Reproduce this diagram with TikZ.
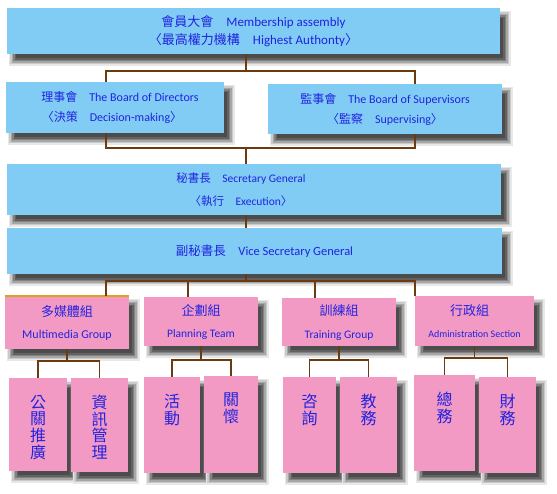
\documentclass[tikz,border=0pt]{standalone}
\usepackage{fontspec}
\setmainfont{Carlito}
\newfontfamily\cjk{Noto Sans CJK TC}

\definecolor{skyBox}{HTML}{80CCF4}
\definecolor{pinkBox}{HTML}{F29AC4}
\definecolor{ink}{HTML}{2222E0}
\definecolor{trunk}{HTML}{6B3A0E}
\definecolor{goldEdge}{HTML}{D9A521}
% shadow greys, rim to core
\definecolor{shA}{HTML}{E8E8E8}
\definecolor{shB}{HTML}{CACACA}
\definecolor{shC}{HTML}{A6A6A6}
\definecolor{shD}{HTML}{828282}
\definecolor{shE}{HTML}{626262}
\definecolor{shF}{HTML}{4C4C4C}

\newcommand{\zh}[1]{{\cjk #1}}
% shadow rings, then the box: \panel{options}{name}{cx}{cy}{width}{height} {text};
\newcommand{\panel}[6]{%
  \foreach \e/\k in {4.5/shA, 3/shB, 1.5/shC, 0/shD, -1.5/shE, -3/shF}
    \fill[\k] ({#3-#5/2+6-(\e)},{#4-#6/2+7-(\e)}) rectangle ({#3+#5/2+6+\e},{#4+#6/2+7+\e});
  \node[#1, minimum width=#5pt, minimum height=#6pt] (#2) at (#3,#4)}

\begin{document}
\begin{tikzpicture}[x=1pt, y=-1pt,
    box/.style={inner sep=0pt, text=ink, align=center},
    upper/.style={box, fill=skyBox},
    group/.style={box, fill=pinkBox},
    leaf/.style={box, fill=pinkBox},
    leaftext/.style={anchor=north, yshift=-17pt, inner sep=0pt, align=center, text=ink,
      font=\cjk\fontsize{16}{16.7}\selectfont},
    link/.style={trunk, line width=1.8pt}]
    \useasboundingbox (0,0) rectangle (557,493);

    % assembly and boards
    \panel{upper, font=\fontsize{13}{18}\selectfont}{assembly}{253.5}{31}{493}{46}
      {\zh{會員大會}\quad Membership assembly\\ \zh{〈最高權力機構}\quad Highest Authonty\zh{〉}};
    \panel{upper, font=\fontsize{12}{20}\selectfont}{directors}{115}{107.5}{218}{51}
      {\zh{理事會}\quad The Board of Directors\hspace*{-10pt}\\ \zh{〈決策}\quad Decision-making\zh{〉}\hspace*{6pt}};
    \panel{upper, font=\fontsize{12}{20}\selectfont}{supervisors}{385}{109}{234}{50}
      {\zh{監事會}\quad The Board of Supervisors\\ \zh{〈監察}\quad Supervising\zh{〉}};

    % secretariat
    \panel{upper, font=\fontsize{11.5}{23}\selectfont}{secretary}{254}{189.5}{494}{51}
      {\zh{秘書長}\quad Secretary General\hspace*{26pt}\\ \zh{〈執行}\quad Execution\zh{〉}\hspace*{26pt}};
    \panel{upper, font=\fontsize{12.5}{18}\selectfont}{vice}{254.5}{251}{495}{46}
      {\hspace*{20pt}\zh{副秘書長}\quad Vice Secretary General};

    % groups
    \panel{group, font=\fontsize{12}{22}\selectfont}{multimedia}{67}{322.5}{124}{53}
      {{\fontsize{13}{22}\selectfont\zh{多媒體組}}\\ Multimedia Group};
    \panel{group, font=\fontsize{11.5}{22}\selectfont}{planning}{201}{321.5}{114}{49}
      {{\fontsize{13}{22}\selectfont\zh{企劃組}}\\ Planning Team};
    \panel{group, font=\fontsize{11.5}{23}\selectfont}{training}{339}{322}{114}{48}
      {{\fontsize{13}{23}\selectfont\zh{訓練組}}\\ Training Group};
    \panel{group, font=\fontsize{10}{22}\selectfont}{admin}{474.5}{321}{119}{50}
      {{\fontsize{13}{22}\selectfont\zh{行政組}}\hspace*{10pt}\\ Administration Section};
    \draw[goldEdge, line width=1.5pt] (multimedia.north west) -- (multimedia.north east);

    % sections
    \panel{leaf, label={[leaftext]north:{公\\關\\推\\廣}}}{pr}{38}{424.5}{58}{93} {};
    \panel{leaf, label={[leaftext]north:{資\\訊\\管\\理}}}{info}{99.5}{425}{57}{94} {};
    \panel{leaf, label={[leaftext]north:{活\\動}}}{act}{172}{425}{56}{96} {};
    \panel{leaf, label={[leaftext]north:{關\\懷}}}{care}{231}{424.5}{54}{97} {};
    \panel{leaf, label={[leaftext]north:{咨\\詢}}}{consult}{309.5}{425}{53}{96} {};
    \panel{leaf, label={[leaftext]north:{教\\務}}}{edu}{368.5}{425}{57}{96} {};
    \panel{leaf, label={[leaftext]north:{總\\務}}}{general}{444.5}{423}{61}{96} {};
    \panel{leaf, label={[leaftext]north:{財\\務}}}{finance}{507.5}{425}{57}{96} {};

    % connectors
    \coordinate (spine) at (246,0);
    \coordinate (lb) at (106,71);
    \coordinate (rb) at (415,71);
    \coordinate (jn) at (246,148);
    \draw[link] (assembly.south -| spine) -- (spine |- lb);
    \draw[link] (lb |- directors.north) -- (lb) -- (rb) -- (rb |- supervisors.north);
    \draw[link] (lb |- directors.south) -- (lb |- jn) -- (rb |- jn) -- (rb |- supervisors.south);
    \draw[link] (jn) -- (secretary.north -| jn);
    \draw[link] (secretary.south -| spine) -- (vice.north -| spine);

    \coordinate (gl) at (106,281);
    \coordinate (gp) at (188,281);
    \coordinate (gt) at (315,281);
    \coordinate (gr) at (415,281);
    \draw[link] (vice.south -| spine) -- (spine |- gl);
    \draw[link] (gl |- multimedia.north) -- (gl) -- (gr) -- (gr |- admin.north);
    \draw[link] (gp) -- (gp |- planning.north);
    \draw[link] (gt) -- (gt |- training.north);

    \foreach \g/\a/\b in {multimedia/pr/info, planning/act/care, training/consult/edu, admin/general/finance} {
      \path (\a.north) ++(0,-17) coordinate (bar);
      \draw[link] (\g.south) -- (\g.south |- bar);
      \draw[link] (\a.north) |- (bar) -| (\b.north);
    }
\end{tikzpicture}
\end{document}
